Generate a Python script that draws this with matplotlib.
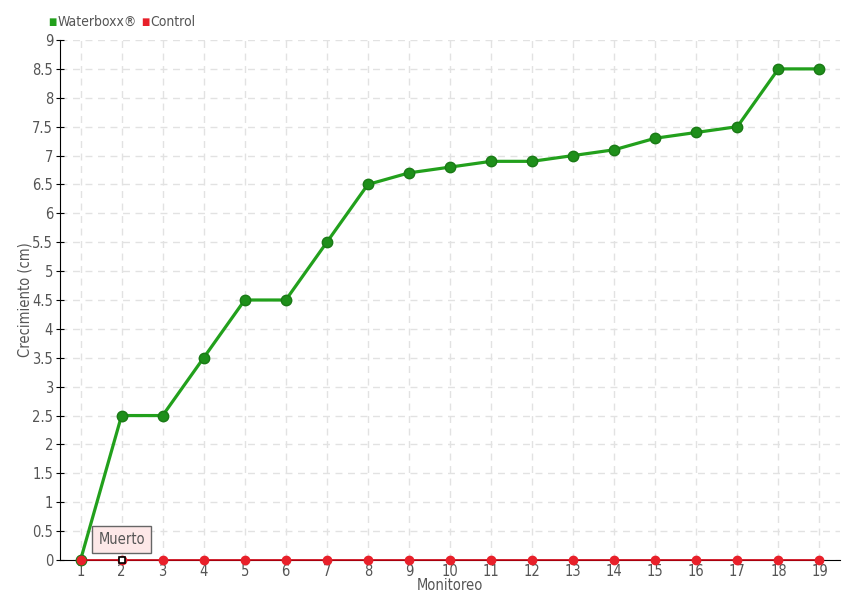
import numpy as np
import matplotlib.pyplot as plt

# Data
monitoreo = list(range(1, 20))
waterboxx = [0, 2.5, 2.5, 3.5, 4.5, 4.5, 5.5, 6.5, 6.7, 6.8, 6.9, 6.9,
             7.0, 7.1, 7.3, 7.4, 7.5, 8.5, 8.5]
control = [0] * 19
muerto_idx = 1  # monitoreo 2

plt.rcParams['font.family'] = ['DejaVu Sans']
plt.rcParams['font.stretch'] = 'condensed'
txt = '#555555'

fig = plt.figure(figsize=(8.6, 6), dpi=100)
ax = fig.add_axes([60 / 860, 40 / 600, 780 / 860, 520 / 600])

green = '#22a01c'
red = '#e8202a'

ax.plot(monitoreo, waterboxx, color=green, lw=2.3, marker='o', ms=7.5,
        mfc='#1e8f1a', mec='#1a7a16', zorder=4, clip_on=False)
ax.plot(monitoreo, control, color='#cc0010', lw=1.2, marker='o', ms=6,
        mfc=red, mec=red, zorder=5, clip_on=False)
# "Muerto" marker
ax.plot(monitoreo[muerto_idx], control[muerto_idx], marker='s', ms=4.5,
        mfc='white', mec='black', mew=1.2, zorder=6, clip_on=False)

ax.set_xlim(0.5, 19.5)
ax.set_ylim(0, 9)
ax.set_xticks(monitoreo)
yt = np.arange(0, 9.01, 0.5)
ax.set_yticks(yt)
ax.set_yticklabels(['%g' % v for v in yt])
ax.grid(True, ls=(0, (5, 4)), color='#e2e2e2', lw=1)
ax.set_axisbelow(True)
for s in ['top', 'right']:
    ax.spines[s].set_visible(False)
ax.tick_params(axis='both', colors='black', labelcolor=txt, labelsize=10.5,
               direction='inout', length=6, pad=2)
ax.tick_params(axis='x', pad=0)
ax.set_xlabel('Monitoreo', color=txt, fontsize=10.5, labelpad=-1)
ax.set_ylabel('Crecimiento (cm)', color=txt, fontsize=10.5, labelpad=0)

# Tooltip box
ax.annotate('Muerto', xy=(monitoreo[muerto_idx], control[muerto_idx]),
            xytext=(0, 15), textcoords='offset points',
            ha='center', va='center', color=txt, fontsize=10.5,
            bbox=dict(boxstyle='square,pad=0.4', fc='#fde8e8', ec='#666666', lw=1),
            zorder=7, annotation_clip=False)

# Legend
ly = 1 - 22 / 600
fig.text(48 / 860, ly, '\u25a0', color=green, fontsize=7, va='center')
fig.text(58 / 860, ly, 'Waterboxx\u00ae', color=txt, fontsize=10, va='center')
fig.text(141 / 860, ly, '\u25a0', color=red, fontsize=7, va='center')
fig.text(150 / 860, ly, 'Control', color=txt, fontsize=10, va='center')

fig.savefig('out.png', dpi=100)
